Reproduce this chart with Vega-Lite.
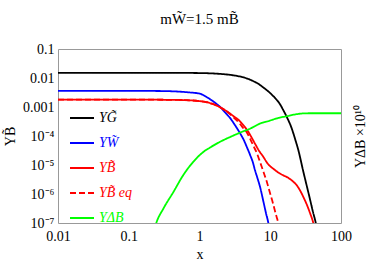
{
  "$schema": "https://vega.github.io/schema/vega-lite/v6.json",
  "width": 283,
  "height": 174,
  "autosize": {"type": "none"},
  "padding": {"left": 58, "top": 49, "right": 30, "bottom": 40},
  "background": "white",
  "title": {"text": "mW̃=1.5 mB̃", "font": "Liberation Serif", "fontSize": 15, "fontWeight": "normal", "color": "black", "offset": 15, "anchor": "middle"},
  "config": {
    "view": {"stroke": null},
    "font": "Liberation Serif",
    "axis": {"domainColor": "#999999", "tickColor": "#888888", "labelColor": "black", "titleColor": "black", "labelFont": "Liberation Serif", "titleFont": "Liberation Serif", "labelFontSize": 14, "titleFontSize": 14, "titleFontWeight": "normal", "grid": false, "labelOverlap": false, "labelFlush": false, "tickSize": 0}
  },
  "data": {"values": [
    {"s": "G", "x": 0.01, "y": 0.015},
    {"s": "G", "x": 0.1, "y": 0.015},
    {"s": "G", "x": 0.5, "y": 0.015},
    {"s": "G", "x": 1, "y": 0.0148},
    {"s": "G", "x": 2, "y": 0.0138},
    {"s": "G", "x": 3, "y": 0.0124},
    {"s": "G", "x": 4, "y": 0.0108},
    {"s": "G", "x": 5, "y": 0.0091},
    {"s": "G", "x": 6, "y": 0.0074},
    {"s": "G", "x": 7, "y": 0.006},
    {"s": "G", "x": 8, "y": 0.0047},
    {"s": "G", "x": 10, "y": 0.003},
    {"s": "G", "x": 12, "y": 0.0019},
    {"s": "G", "x": 13.6, "y": 0.0013},
    {"s": "G", "x": 15, "y": 0.00085},
    {"s": "G", "x": 17, "y": 0.00047},
    {"s": "G", "x": 20, "y": 0.00019},
    {"s": "G", "x": 22.4, "y": 0.00008},
    {"s": "G", "x": 25, "y": 0.000032},
    {"s": "G", "x": 29.3, "y": 0.000006},
    {"s": "G", "x": 33, "y": 0.0000018},
    {"s": "G", "x": 36.5, "y": 0.00000065},
    {"s": "G", "x": 40, "y": 0.00000025},
    {"s": "G", "x": 44, "y": 0.0000001},
    {"s": "G", "x": 48, "y": 0.00000003},
    {"s": "W", "x": 0.01, "y": 0.0036},
    {"s": "W", "x": 0.1, "y": 0.0036},
    {"s": "W", "x": 0.3, "y": 0.00355},
    {"s": "W", "x": 0.5, "y": 0.0034},
    {"s": "W", "x": 0.7, "y": 0.0032},
    {"s": "W", "x": 1, "y": 0.0029},
    {"s": "W", "x": 1.3, "y": 0.0021},
    {"s": "W", "x": 1.66, "y": 0.0014},
    {"s": "W", "x": 2, "y": 0.00095},
    {"s": "W", "x": 2.3, "y": 0.00065},
    {"s": "W", "x": 2.7, "y": 0.00042},
    {"s": "W", "x": 3.2, "y": 0.00023},
    {"s": "W", "x": 3.7, "y": 0.00013},
    {"s": "W", "x": 4.2, "y": 0.000075},
    {"s": "W", "x": 4.7, "y": 0.00004},
    {"s": "W", "x": 5.2, "y": 0.000022},
    {"s": "W", "x": 5.7, "y": 0.000012},
    {"s": "W", "x": 6.1, "y": 0.0000065},
    {"s": "W", "x": 6.6, "y": 0.0000035},
    {"s": "W", "x": 7.2, "y": 0.0000017},
    {"s": "W", "x": 8, "y": 0.00000055},
    {"s": "W", "x": 8.7, "y": 0.00000022},
    {"s": "W", "x": 9.4, "y": 0.0000001},
    {"s": "W", "x": 10, "y": 0.00000004},
    {"s": "B", "x": 0.01, "y": 0.0018},
    {"s": "B", "x": 0.1, "y": 0.0018},
    {"s": "B", "x": 0.5, "y": 0.00175},
    {"s": "B", "x": 1, "y": 0.0016},
    {"s": "B", "x": 1.5, "y": 0.0013},
    {"s": "B", "x": 2, "y": 0.00095},
    {"s": "B", "x": 2.5, "y": 0.00068},
    {"s": "B", "x": 3, "y": 0.00049},
    {"s": "B", "x": 3.6, "y": 0.00035},
    {"s": "B", "x": 4.2, "y": 0.00023},
    {"s": "B", "x": 4.9, "y": 0.00014},
    {"s": "B", "x": 5.5, "y": 0.000085},
    {"s": "B", "x": 6.2, "y": 0.00005},
    {"s": "B", "x": 7, "y": 0.00003},
    {"s": "B", "x": 8, "y": 0.000019},
    {"s": "B", "x": 9, "y": 0.000012},
    {"s": "B", "x": 10, "y": 0.000009},
    {"s": "B", "x": 11, "y": 0.0000075},
    {"s": "B", "x": 13, "y": 0.0000055},
    {"s": "B", "x": 15, "y": 0.0000045},
    {"s": "B", "x": 18, "y": 0.0000036},
    {"s": "B", "x": 21, "y": 0.0000027},
    {"s": "B", "x": 23.7, "y": 0.000002},
    {"s": "B", "x": 26.5, "y": 0.0000013},
    {"s": "B", "x": 29.3, "y": 0.0000008},
    {"s": "B", "x": 33, "y": 0.00000042},
    {"s": "B", "x": 36.5, "y": 0.00000022},
    {"s": "B", "x": 40.6, "y": 0.0000001},
    {"s": "B", "x": 44, "y": 0.00000004},
    {"s": "Beq", "x": 0.01, "y": 0.0018},
    {"s": "Beq", "x": 0.1, "y": 0.0018},
    {"s": "Beq", "x": 0.5, "y": 0.00175},
    {"s": "Beq", "x": 1, "y": 0.0016},
    {"s": "Beq", "x": 1.5, "y": 0.0013},
    {"s": "Beq", "x": 2, "y": 0.00094},
    {"s": "Beq", "x": 2.5, "y": 0.00066},
    {"s": "Beq", "x": 3, "y": 0.00045},
    {"s": "Beq", "x": 3.6, "y": 0.00029},
    {"s": "Beq", "x": 4.2, "y": 0.00018},
    {"s": "Beq", "x": 4.6, "y": 0.00014},
    {"s": "Beq", "x": 5.2, "y": 0.00008},
    {"s": "Beq", "x": 5.75, "y": 0.000047},
    {"s": "Beq", "x": 6.5, "y": 0.000025},
    {"s": "Beq", "x": 7, "y": 0.000015},
    {"s": "Beq", "x": 7.6, "y": 0.0000085},
    {"s": "Beq", "x": 8.3, "y": 0.0000045},
    {"s": "Beq", "x": 9, "y": 0.0000025},
    {"s": "Beq", "x": 9.9, "y": 0.0000011},
    {"s": "Beq", "x": 11, "y": 0.00000045},
    {"s": "Beq", "x": 12, "y": 0.0000002},
    {"s": "Beq", "x": 13, "y": 0.0000001},
    {"s": "Beq", "x": 14, "y": 0.00000004},
    {"s": "dB", "x": 0.22, "y": 0.00000004},
    {"s": "dB", "x": 0.245, "y": 0.0000001},
    {"s": "dB", "x": 0.31, "y": 0.00000032},
    {"s": "dB", "x": 0.43, "y": 0.0000012},
    {"s": "dB", "x": 0.59, "y": 0.0000045},
    {"s": "dB", "x": 0.82, "y": 0.000013},
    {"s": "dB", "x": 1.13, "y": 0.000028},
    {"s": "dB", "x": 1.41, "y": 0.00004},
    {"s": "dB", "x": 1.95, "y": 0.000063},
    {"s": "dB", "x": 3, "y": 0.000103},
    {"s": "dB", "x": 4, "y": 0.00014},
    {"s": "dB", "x": 5.2, "y": 0.00018},
    {"s": "dB", "x": 7.2, "y": 0.00027},
    {"s": "dB", "x": 9.9, "y": 0.00034},
    {"s": "dB", "x": 13, "y": 0.00042},
    {"s": "dB", "x": 17, "y": 0.00048},
    {"s": "dB", "x": 22, "y": 0.00055},
    {"s": "dB", "x": 29, "y": 0.0006},
    {"s": "dB", "x": 40, "y": 0.00061},
    {"s": "dB", "x": 60, "y": 0.00061},
    {"s": "dB", "x": 100, "y": 0.00061}
  ]},
  "layer": [
    {
      "mark": {"type": "line", "clip": true, "strokeWidth": 1.8, "interpolate": "monotone"},
      "encoding": {
        "x": {"field": "x", "type": "quantitative", "scale": {"type": "log", "domain": [0.01, 100]},
          "axis": {"orient": "bottom", "title": "x", "titlePadding": 4, "labelPadding": 6,
            "values": [0.01,0.02,0.03,0.04,0.05,0.06,0.07,0.08,0.09,0.1,0.2,0.3,0.4,0.5,0.6,0.7,0.8,0.9,1,2,3,4,5,6,7,8,9,10,20,30,40,50,60,70,80,90,100],
            "labelExpr": "indexof([0.01,0.1,1,10,100], datum.value) >= 0 ? toString(datum.value) : ''",
            "encode": {"ticks": {"update": {"y2": {"signal": "indexof([0.01,0.1,1,10,100], datum.value) >= 0 ? -5 : -2.5"}}}}}},
        "y": {"field": "y", "type": "quantitative", "scale": {"type": "log", "domain": [0.0000001, 0.1]},
          "axis": {"orient": "left", "title": "YB̃", "titlePadding": 5, "labelPadding": 4,
            "values": [0.0000001, 0.000001, 0.00001, 0.0001, 0.001, 0.01, 0.1],
            "labelExpr": "datum.value > 0.0005 ? toString(datum.value) : '10' + ['⁻⁴','⁻⁵','⁻⁶','⁻⁷'][round(-log(datum.value)/LN10) - 4]",
            "encode": {"ticks": {"update": {"x2": {"value": 5}}}}}},
        "color": {"field": "s", "type": "nominal",
          "scale": {"domain": ["G", "W", "B", "Beq", "dB"], "range": ["#000000", "#0000ff", "#ff0000", "#ff0000", "#00ff00"]},
          "legend": {"orient": "none", "legendX": 11, "legendY": 56, "title": null, "labelFont": "Liberation Serif", "labelFontSize": 14, "labelFontStyle": "italic", "symbolSize": 576, "symbolStrokeWidth": 2, "rowPadding": 5, "labelOffset": 4,
            "labelExpr": "{'G':'YG̃','W':'YW̃','B':'YB̃','Beq':'YB̃ eq','dB':'YΔB'}[datum.value]",
            "encode": {"labels": {"update": {"fill": {"scale": "color", "field": "value"}}}}}},
        "strokeDash": {"field": "s", "type": "nominal",
          "scale": {"domain": ["G", "W", "B", "Beq", "dB"], "range": [[1, 0], [1, 0], [1, 0], [6, 3], [1, 0]]},
          "legend": {"orient": "none", "legendX": 11, "legendY": 56, "title": null, "labelFont": "Liberation Serif", "labelFontSize": 14, "labelFontStyle": "italic", "symbolSize": 576, "symbolStrokeWidth": 2, "rowPadding": 5, "labelOffset": 4,
            "labelExpr": "{'G':'YG̃','W':'YW̃','B':'YB̃','Beq':'YB̃ eq','dB':'YΔB'}[datum.value]",
            "encode": {"labels": {"update": {"fill": {"scale": "color", "field": "value"}}}}}}
      }
    },
    {
      "mark": {"type": "line", "clip": true, "opacity": 0},
      "encoding": {
        "x": {"field": "x", "type": "quantitative",
          "axis": {"orient": "top", "title": null, "labels": false,
            "values": [0.01,0.02,0.03,0.04,0.05,0.06,0.07,0.08,0.09,0.1,0.2,0.3,0.4,0.5,0.6,0.7,0.8,0.9,1,2,3,4,5,6,7,8,9,10,20,30,40,50,60,70,80,90,100],
            "encode": {"ticks": {"update": {"y2": {"signal": "indexof([0.01,0.1,1,10,100], datum.value) >= 0 ? 5 : 2.5"}}}}}},
        "y": {"field": "y", "type": "quantitative",
          "axis": {"orient": "right", "title": "YΔB ×10¹⁰", "titleAngle": -90, "titlePadding": 26, "labels": false,
            "values": [0.0000001, 0.000001, 0.00001, 0.0001, 0.001, 0.01, 0.1],
            "encode": {"ticks": {"update": {"x2": {"value": -5}}}}}}
      }
    }
  ],
  "resolve": {"axis": {"x": "independent", "y": "independent"}}
}
